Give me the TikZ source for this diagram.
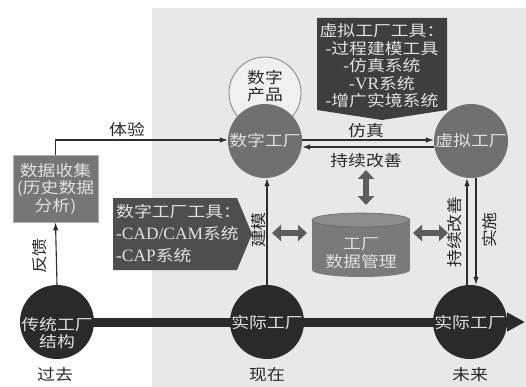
\documentclass[tikz,border=0pt]{standalone}
\usepackage{fontspec}
\setmainfont[FakeStretch=1.15]{Noto Sans CJK SC}
\newfontfamily\lat[Scale=1.12]{Liberation Serif}
\usetikzlibrary{arrows.meta}
\definecolor{bgc}{RGB}{232,232,232}
\definecolor{darkfill}{RGB}{42,42,42}
\definecolor{midfill}{RGB}{112,112,112}
\definecolor{boxfill}{RGB}{118,118,118}
\definecolor{boxline}{RGB}{175,175,175}
\definecolor{prodline}{RGB}{130,130,130}
\definecolor{prodfill}{RGB}{240,240,240}
\definecolor{vtfill}{RGB}{62,62,62}
\definecolor{dtfill}{RGB}{78,78,78}
\definecolor{lighttext}{RGB}{226,226,226}
\definecolor{darktext}{RGB}{40,40,40}
\definecolor{linec}{RGB}{45,45,45}
\definecolor{dblc}{RGB}{92,92,92}
\definecolor{cylfill}{RGB}{122,122,122}
\definecolor{cyltop}{RGB}{140,140,140}
\definecolor{cylline}{RGB}{105,105,105}
\newcommand{\fs}{\fontsize{15.5}{17.5}\selectfont}
\begin{document}
\begin{tikzpicture}[x=1pt,y=-1pt,
  txt/.style={font=\fs, align=center, inner sep=0pt, text=darktext},
  ltxt/.style={font=\fs, align=center, inner sep=0pt, text=lighttext},
  darkc/.style={circle, fill=darkfill, minimum size=74pt, inner sep=0pt},
  midc/.style={circle, fill=midfill, minimum size=74pt, inner sep=0pt, font=\fs, text=lighttext},
  conn/.style={draw=linec, line width=1.1pt, -{Latex[length=8pt,width=5.5pt]}},
  dbl/.style={draw=dblc, line width=6pt, {Triangle[length=9pt,width=16pt]}-{Triangle[length=9pt,width=16pt]}},
]
\useasboundingbox (0,0) rectangle (526,387);
\fill[bgc] (152,8) rectangle (526,387);

% timeline
\coordinate (tip) at (525,322);
\node[darkc] (past) at (57,322) {};
\node[darkc] (present) at (267,322) {};
\node[darkc] (future) at (470,322) {};
\draw[line width=9pt, draw=darkfill, -{Triangle[length=18pt,width=18pt]}] (past.center) -- (tip);
\node[ltxt] (pastt) at (57,333) {传统工厂\\结构};
\node[ltxt] (presentt) at (267,323) {实际工厂};
\node[ltxt] (futuret) at (470,323) {实际工厂};
\node[txt] (l1) at (55,375) {过去};
\node[txt] (l2) at (267,375) {现在};
\node[txt] (l3) at (470,375) {未来};

% digital product circle
\node[circle, draw=prodline, line width=0.8pt, fill=prodfill, minimum size=72pt, inner sep=0pt] (prod) at (265,93) {};
\node[txt] (prodt) at (265,86) {数字\\产品};

% digital and virtual factory
\node[midc] (df) at (265,141) {数字工厂};
\node[midc] (vf) at (471,141) {虚拟工厂};

% data collection box
\node[rectangle, fill=boxfill, draw=boxline, line width=0.6pt, minimum width=85pt, minimum height=67pt, inner sep=0pt, font=\fs, text=lighttext, align=center] (dbox) at (55.5,188.5) {数据收集\\(历史数据\\分析)};

\draw[conn] (past.north) -- (dbox.south);
\node[txt, rotate=90] (fk) at (40,256) {反馈};
\draw[conn] (dbox.north) |- ([yshift=1pt]df.west);
\node[txt] (ty) at (127,130) {体验};

% virtual factory tools box
\fill[vtfill] (317,18) -- (447,18) -- (447,110) -- (382,120) -- (317,110) -- cycle;
\node[ltxt] (vtools) at (382,66) {虚拟工厂工具：\\{\lat -}过程建模工具\\{\lat -}仿真系统\\{\lat -VR}系统\\{\lat -}增广实境系统};

% digital factory tools box
\fill[dtfill] (113,198) -- (237,198) -- (252,234) -- (237,270) -- (113,270) -- cycle;
\node[font=\fontsize{15.5}{22}\selectfont, text=lighttext, align=left, inner sep=0pt, anchor=west] (dtools) at (116,234) {数字工厂工具：\\{\lat -CAD/CAM}系统\\{\lat -CAP}系统};

% simulation / improvement arrows
\draw[conn] ([yshift=1pt]df.east) -- ([yshift=1pt]vf.west);
\node[txt] (fz) at (366,130.5) {仿真};
\draw[conn] ([yshift=-6pt]vf.west) -- ([yshift=-6pt]df.east);
\node[txt] (cx) at (366,161) {持续改善};

% modelling arrow
\draw[conn] (present.north) -- (present.north |- df.south);
\node[txt, rotate=90] (jm) at (259,230) {建模};

% right vertical arrows
\draw[conn] ([xshift=-3pt]future.north) -- ([xshift=-3pt]future.north |- vf.south);
\draw[conn] ([xshift=5pt]vf.south) -- ([xshift=5pt]vf.south |- future.north);
\node[txt, rotate=90] (cx2) at (455,232) {持续改善};
\node[txt, rotate=90] (ss) at (490,230) {实施};

% database cylinder
\fill[cylfill] (361,270) ellipse (49 and 7);
\fill[cylfill] (312,220) rectangle (410,270);
\fill[cyltop] (361,220) ellipse (49 and 7);
\draw[cylline, line width=0.6pt] (361,220) ellipse (49 and 7);
\node[ltxt] (db) at (361,253) {工厂\\数据管理};

% thick double arrows
\coordinate (a1) at (272,233);
\coordinate (a2) at (307,233);
\coordinate (b1) at (413,233);
\coordinate (b2) at (448,233);
\coordinate (c1) at (366,170);
\coordinate (c2) at (366,205);
\draw[dbl] (a1) -- (a2);
\draw[dbl] (b1) -- (b2);
\draw[dbl] (c1) -- (c2);
\end{tikzpicture}
\end{document}
